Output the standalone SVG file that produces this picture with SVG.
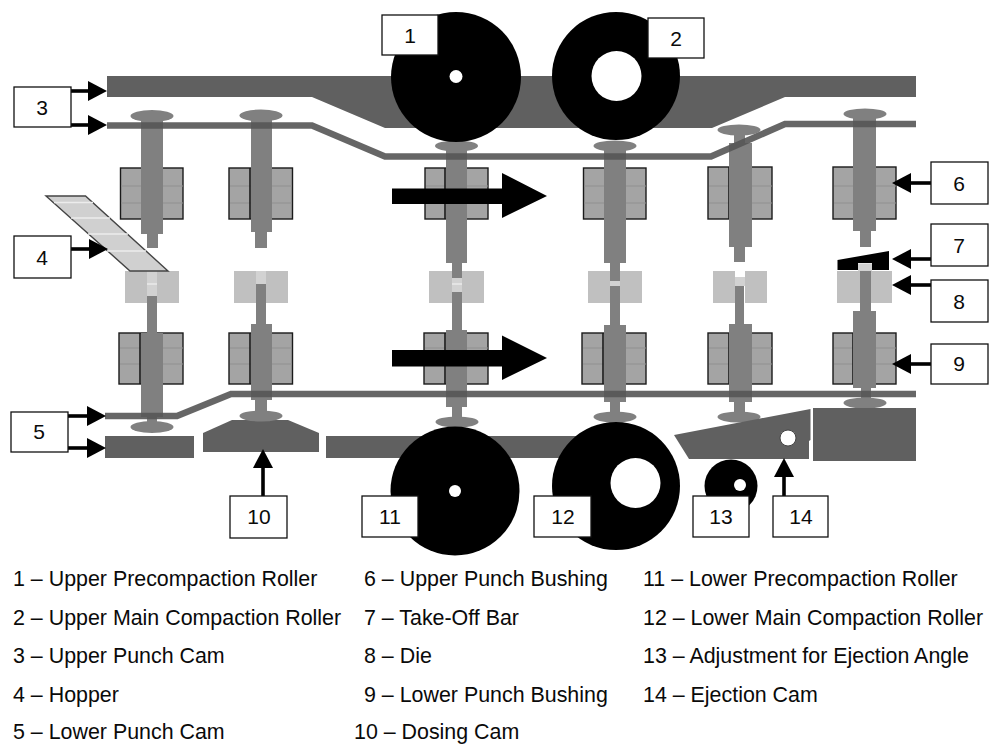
<svg xmlns="http://www.w3.org/2000/svg" width="989" height="744" viewBox="0 0 989 744">
<style>
text{font-family:"Liberation Sans",Arial,sans-serif;font-size:21px;fill:#0a0a0a}
#legend text{font-size:21.4px}
.num{text-anchor:middle}
.box{fill:#fff;stroke:#111;stroke-width:1.3}
.cam{fill:#606060}
.thin{fill:none;stroke:#555;stroke-opacity:.9;stroke-width:6.5}
.p{fill:#808080}
.bu{fill:#a4a4a4;stroke:#1a1a1a;stroke-width:1.4}
.bl{stroke:#909090;stroke-width:1.2}
.be{stroke:#1a1a1a;stroke-width:1.6}
.die{fill:#c0c0c0}
.hole{fill:#d2d2d2}
.wl{stroke:#ececec;stroke-width:1.4}
.roller{fill:#000}
.bore{fill:#fff}
.arr{fill:none;stroke:#000;stroke-width:3.6;marker-end:url(#head)}
</style>
<defs>
<marker id="head" markerUnits="userSpaceOnUse" markerWidth="20" markerHeight="20" refX="2" refY="10" orient="auto" overflow="visible"><path d="M0,0L19,10L0,20z" fill="#000"/></marker>
</defs>
<rect width="989" height="744" fill="#fff"/>

<g id="upper-punch-cam-thick"><polygon class="cam" points="107,76 916,76 916,97 785,97 712,128 385,128 312,97 107,97"/></g>
<g id="dosing-cam"><polygon class="cam" points="203,433 232,420 288,420 319,433 319,452 203,452"/></g>
<g id="lower-punch-cam-block"><rect class="cam" x="105" y="436" width="89" height="22"/><rect class="cam" x="326" y="436" width="250" height="22"/></g>

<g id="station-1">
<rect class="bu" x="120.5" y="168" width="62.5" height="51"/><path class="bl" d="M121,186H183M121,203H183"/>
<rect class="p" x="141" y="116" width="22" height="118"/><rect class="p" x="147" y="234" width="11" height="14"/><ellipse class="p" cx="152" cy="116" rx="21.5" ry="6"/>
<rect class="die" x="125" y="271" width="22" height="32"/><rect class="die" x="157" y="271" width="22" height="32"/><rect class="hole" x="147" y="271" width="10" height="25"/><path class="wl" d="M147,284H157"/>
<rect class="bu" x="119" y="333" width="64" height="51"/><path class="bl" d="M120,348H183M120,364H183"/><path class="be" d="M140,333V384"/>
<rect class="p" x="147" y="296" width="10" height="37"/><rect class="p" x="141" y="333" width="22" height="84"/><rect class="p" x="147" y="417" width="10" height="8"/><ellipse class="p" cx="152" cy="427" rx="21.5" ry="6"/>
</g>
<g id="station-2">
<rect class="bu" x="229" y="168" width="63.5" height="51"/><path class="bl" d="M230,186H292M230,203H292"/><path class="be" d="M250,168V219"/>
<rect class="p" x="251" y="116" width="21" height="116"/><rect class="p" x="255" y="232" width="12" height="16"/><ellipse class="p" cx="261" cy="115.5" rx="21.5" ry="6"/>
<rect class="die" x="234" y="271" width="22" height="32"/><rect class="die" x="266" y="271" width="22" height="32"/><rect class="hole" x="256" y="271" width="10" height="13"/>
<rect class="bu" x="229" y="333" width="63.5" height="51"/><path class="bl" d="M230,348H292M230,364H292"/><path class="be" d="M250,333V384"/>
<rect class="p" x="256" y="284" width="10" height="40"/><rect class="p" x="251" y="324" width="21" height="76"/><rect class="p" x="255" y="400" width="12" height="12"/><ellipse class="p" cx="261" cy="416" rx="21.5" ry="5.5"/>
</g>
<g id="station-3">
<rect class="bu" x="425" y="168" width="63" height="51"/><path class="bl" d="M426,186H488M426,203H488"/><path class="be" d="M445,168V219"/>
<rect class="p" x="446" y="146" width="21" height="117"/><rect class="p" x="452" y="263" width="10" height="15"/><ellipse class="p" cx="456.5" cy="146" rx="21.5" ry="5.5"/>
<rect class="die" x="429" y="271" width="23" height="32"/><rect class="die" x="462" y="271" width="22" height="32"/><rect class="hole" x="452" y="278" width="10" height="14"/><path class="wl" d="M452,284H462"/><rect class="p" x="452" y="271" width="10" height="7"/>
<rect class="bu" x="424" y="333" width="64" height="51"/><path class="bl" d="M425,348H488M425,364H488"/><path class="be" d="M445,333V384"/>
<rect class="p" x="452" y="292" width="10" height="38"/><rect class="p" x="446" y="330" width="21" height="77"/><rect class="p" x="452" y="407" width="10" height="12"/><ellipse class="p" cx="457" cy="422" rx="21.5" ry="5.5"/>
</g>
<g id="station-4">
<rect class="bu" x="583.5" y="168" width="62.5" height="51"/><path class="bl" d="M584,186H646M584,203H646"/>
<rect class="p" x="604" y="146" width="22" height="117"/><rect class="p" x="610" y="263" width="10" height="18"/><ellipse class="p" cx="615" cy="146" rx="21.5" ry="5.5"/>
<rect class="die" x="588" y="271" width="22" height="32"/><rect class="die" x="620" y="271" width="22" height="32"/><rect class="hole" x="610" y="281" width="10" height="5"/><rect class="p" x="610" y="271" width="10" height="10"/>
<rect class="bu" x="582" y="333" width="64" height="51"/><path class="bl" d="M583,348H646M583,364H646"/><path class="be" d="M603,333V384"/>
<rect class="p" x="610" y="286" width="10" height="39"/><rect class="p" x="604" y="325" width="22" height="77"/><rect class="p" x="610" y="402" width="10" height="12"/><ellipse class="p" cx="615" cy="417" rx="21.5" ry="5.5"/>
</g>
<g id="station-5">
<rect class="bu" x="708" y="167" width="64" height="52"/><path class="bl" d="M709,186H772M709,203H772"/><path class="be" d="M729,167V219"/>
<rect class="p" x="729" y="143" width="23" height="104"/><rect class="p" x="734" y="130" width="11" height="13"/><rect class="p" x="734" y="247" width="11" height="15"/><ellipse class="p" cx="739" cy="130" rx="21.5" ry="5.5"/>
<rect class="die" x="713" y="271" width="22" height="32"/><rect class="die" x="745" y="271" width="22" height="32"/><rect class="hole" x="735" y="277" width="10" height="9"/>
<rect class="bu" x="708" y="333" width="64" height="51"/><path class="bl" d="M709,348H772M709,364H772"/><path class="be" d="M729,333V384"/>
<rect class="p" x="735" y="286" width="9" height="38"/><rect class="p" x="729" y="324" width="23" height="78"/><rect class="p" x="734" y="402" width="11" height="12"/><ellipse class="p" cx="739" cy="417" rx="21.5" ry="5.5"/>
</g>
<g id="station-6">
<rect class="bu" x="833" y="167" width="63" height="52"/><path class="bl" d="M834,186H896M834,203H896"/>
<rect class="p" x="853" y="114" width="23" height="117"/><rect class="p" x="860" y="231" width="11" height="16"/><ellipse class="p" cx="865" cy="114" rx="21.5" ry="5.5"/>
<rect class="die" x="837" y="271" width="23" height="32"/><rect class="die" x="871" y="271" width="21" height="32"/>
<rect class="bu" x="833" y="333" width="63" height="51"/><path class="bl" d="M834,348H896M834,364H896"/><path class="be" d="M853,333V384"/>
<rect class="p" x="860" y="271" width="11" height="40"/><rect class="p" x="853" y="311" width="23" height="77"/><rect class="p" x="861" y="388" width="10" height="12"/><ellipse class="p" cx="865" cy="403" rx="21.5" ry="5.5"/>
</g>

<g id="hopper">
<polygon points="46,196 85.5,196 168,271 130,271" fill="#d0d0d0" stroke="#444" stroke-width="1.4"/>
<path class="wl" d="M54,202.5H93M71,218H110M88,234H128M107,251H146"/>
</g>
<g id="take-off-bar">
<polygon points="837.5,260 889,251 889,270 872,270 872,263 858,263 858,270 837.5,270" fill="#000"/>
<rect x="858" y="263.5" width="14" height="7.5" fill="#d2d2d2"/>
</g>

<g id="upper-punch-cam-thin"><polyline class="thin" points="107,125.5 312,125.5 385,156.5 711,156.5 785,124 916,124"/></g>
<g id="lower-punch-cam-thin"><polyline class="thin" points="105,416 177,416 231,394 916,394"/></g>

<g id="ejection-cam"><polygon class="cam" points="674,435 810.5,409 810.5,440 809,441 809,459 689,459"/><circle cx="788" cy="438" r="8" fill="#fff" stroke="#444" stroke-width="1"/></g>
<g id="ejection-block"><rect class="cam" x="813" y="408" width="103" height="53"/></g>

<g id="roller-1"><circle class="roller" cx="456" cy="77" r="65"/><circle class="bore" cx="456" cy="76.5" r="6.5"/></g>
<g id="roller-2"><circle class="roller" cx="616" cy="76" r="64"/><circle class="bore" cx="616.5" cy="76" r="25"/></g>
<g id="roller-11"><circle class="roller" cx="455" cy="491" r="64.5"/><circle class="bore" cx="455" cy="491" r="6"/></g>
<g id="roller-12"><circle class="roller" cx="616" cy="486" r="64"/><circle class="bore" cx="635.5" cy="483" r="25"/></g>
<g id="roller-13"><circle class="roller" cx="731" cy="486" r="26.5"/><circle class="bore" cx="740" cy="485" r="6"/></g>

<g id="connectors">
<path class="arr" d="M71,91H90"/>
<path class="arr" d="M71,125H90"/>
<path class="arr" d="M70,249H91"/>
<path class="arr" d="M68,416H89"/>
<path class="arr" d="M68,448H89"/>
<path class="arr" d="M263,496V466"/>
<path class="arr" d="M931,183H909"/>
<path class="arr" d="M931,259H909"/>
<path class="arr" d="M931,285H909"/>
<path class="arr" d="M931,364H909"/>
<path class="arr" d="M784,497V475"/>
<polygon points="392,188.5 502,188.5 502,173 547,196 502,218 502,204 392,204" fill="#000"/>
<polygon points="392,350 502,350 502,335.5 547,358 502,380 502,366.5 392,366.5" fill="#000"/>
</g>

<g id="label-1"><rect class="box" x="382" y="15" width="56" height="40"/><text class="num" x="410" y="43">1</text></g>
<g id="label-2"><rect class="box" x="648" y="18" width="56" height="40"/><text class="num" x="676" y="46">2</text></g>
<g id="label-3"><rect class="box" x="14" y="87" width="57" height="40"/><text class="num" x="42" y="115">3</text></g>
<g id="label-4"><rect class="box" x="14" y="236" width="57" height="42"/><text class="num" x="42" y="265">4</text></g>
<g id="label-5"><rect class="box" x="11" y="412" width="57" height="40"/><text class="num" x="39" y="439">5</text></g>
<g id="label-6"><rect class="box" x="931" y="162" width="57" height="42"/><text class="num" x="959" y="191">6</text></g>
<g id="label-7"><rect class="box" x="931" y="224" width="57" height="42"/><text class="num" x="959" y="253">7</text></g>
<g id="label-8"><rect class="box" x="931" y="280" width="57" height="42"/><text class="num" x="959" y="309">8</text></g>
<g id="label-9"><rect class="box" x="931" y="344" width="57" height="40"/><text class="num" x="959" y="371">9</text></g>
<g id="label-10"><rect class="box" x="230" y="496" width="57" height="42"/><text class="num" x="259" y="524">10</text></g>
<g id="label-11"><rect class="box" x="362" y="496" width="56" height="41"/><text class="num" x="390" y="524">11</text></g>
<g id="label-12"><rect class="box" x="534" y="496" width="57" height="41"/><text class="num" x="563" y="524">12</text></g>
<g id="label-13"><rect class="box" x="693" y="496" width="56" height="41"/><text class="num" x="721" y="524">13</text></g>
<g id="label-14"><rect class="box" x="773" y="496" width="55" height="41"/><text class="num" x="801" y="524">14</text></g>

<g id="legend">
<text x="13" y="586">1 – Upper Precompaction Roller</text>
<text x="13" y="624.5">2 – Upper Main Compaction Roller</text>
<text x="13" y="663">3 – Upper Punch Cam</text>
<text x="13" y="702">4 – Hopper</text>
<text x="13" y="739">5 – Lower Punch Cam</text>
<text x="364" y="586">6 – Upper Punch Bushing</text>
<text x="364" y="624.5">7 – Take-Off Bar</text>
<text x="364" y="663">8 – Die</text>
<text x="364" y="702">9 – Lower Punch Bushing</text>
<text x="354" y="739">10 – Dosing Cam</text>
<text x="643" y="586">11 – Lower Precompaction Roller</text>
<text x="643" y="624.5">12 – Lower Main Compaction Roller</text>
<text x="643" y="663">13 – Adjustment for Ejection Angle</text>
<text x="643" y="702">14 – Ejection Cam</text>
</g>
</svg>
